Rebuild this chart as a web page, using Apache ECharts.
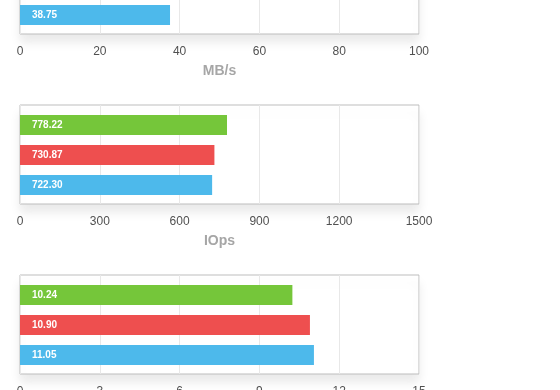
<!DOCTYPE html>
<html>
<head>
<meta charset="utf-8">
<script src="https://cdn.jsdelivr.net/npm/echarts@6/dist/echarts.min.js"></script>
<style>
html,body{margin:0;padding:0;background:#fff;}
#c{width:560px;height:390px;}
</style>
</head>
<body>
<div id="c"></div>
<script>
// Categories (top to bottom within each panel)
var categories = ['Run A', 'Run B', 'Run C'];
var barColors = ['#75c63a', '#ee4f4f', '#4db9eb'];

// Panel 1: MB/s (only the bottom bar is visible in the picture)
var mbValues = [null, null, 37.6];
var mbLabels = ['', '', '38.75'];
var mbTicks = {min: 0, max: 100, interval: 20};

// Panel 2: IOps
var iopsValues = [778.22, 730.87, 722.30];
var iopsLabels = ['778.22', '730.87', '722.30'];
var iopsTicks = {min: 0, max: 1500, interval: 300};

// Panel 3 (axis name not visible)
var latValues = [10.24, 10.90, 11.05];
var latLabels = ['10.24', '10.90', '11.05'];
var latTicks = {min: 0, max: 15, interval: 3};

var panels = [
  {name: 'MB/s', values: mbValues, labels: mbLabels, ticks: mbTicks, boxTop: -65},
  {name: 'IOps', values: iopsValues, labels: iopsLabels, ticks: iopsTicks, boxTop: 105},
  {name: '', values: latValues, labels: latLabels, ticks: latTicks, boxTop: 275}
];

var FONT = 'Liberation Sans, Arial, Helvetica, sans-serif';
var grids = [], xAxes = [], yAxes = [], series = [];

panels.forEach(function (p, i) {
  var boxIdx = i * 2, barIdx = i * 2 + 1;
  grids.push({
    left: 20, right: 141, top: p.boxTop, height: 99,
    outerBoundsMode: 'none', containLabel: false,
    show: true, borderColor: '#bdbdbd', borderWidth: 1,
    backgroundColor: '#fff',
    shadowColor: 'rgba(0,0,0,0.09)', shadowBlur: 10, shadowOffsetY: 8
  });
  grids.push({left: 20, right: 141, top: p.boxTop + 5, height: 90,
    outerBoundsMode: 'none', containLabel: false});

  xAxes.push({
    type: 'value', gridIndex: boxIdx,
    min: p.ticks.min, max: p.ticks.max, interval: p.ticks.interval,
    axisLine: {show: false}, axisTick: {show: false},
    axisLabel: {
      color: '#505050', fontSize: 12, fontFamily: FONT, margin: 12,
      formatter: function (v) { return String(v); }
    },
    splitLine: {show: true, lineStyle: {color: '#e8e8e8', width: 1}},
    name: p.name, nameLocation: 'middle', nameGap: 30,
    nameTextStyle: {color: '#a6a6a6', fontSize: 14, fontWeight: 'bold', fontFamily: FONT}
  });
  xAxes.push({
    type: 'value', gridIndex: barIdx, show: false,
    min: p.ticks.min, max: p.ticks.max, interval: p.ticks.interval
  });
  yAxes.push({type: 'category', gridIndex: boxIdx, data: categories, show: false});
  yAxes.push({type: 'category', gridIndex: barIdx, data: categories, inverse: true, show: false});

  series.push({
    type: 'bar', xAxisIndex: barIdx, yAxisIndex: barIdx,
    barWidth: 20, animation: false,
    data: p.values.map(function (v, k) {
      return {value: v, itemStyle: {color: barColors[k]}};
    }),
    label: {
      show: true, position: 'insideLeft', distance: 12,
      color: '#fff', fontSize: 10, fontWeight: 'bold', fontFamily: FONT,
      formatter: (function (labels) {
        return function (d) { return labels[d.dataIndex]; };
      })(p.labels)
    }
  });
});

var chart = echarts.init(document.getElementById('c'), null, {renderer: 'canvas'});
chart.setOption({
  animation: false,
  grid: grids, xAxis: xAxes, yAxis: yAxes, series: series
});
</script>
</body>
</html>
